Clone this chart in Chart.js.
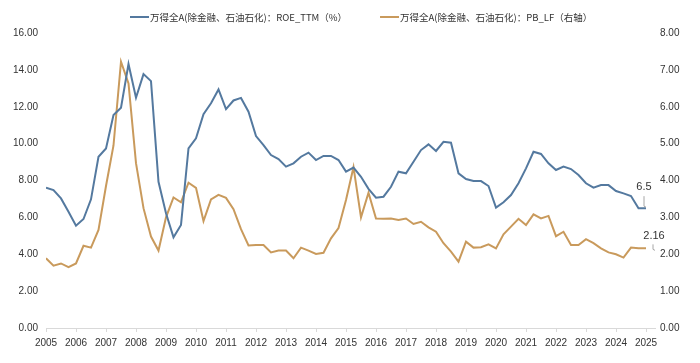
<!DOCTYPE html>
<html>
<head>
<meta charset="utf-8">
<script src="https://cdn.jsdelivr.net/npm/chart.js@4.4.1/dist/chart.umd.min.js"></script>
<style>
  html, body { margin: 0; padding: 0; background: #fff; }
  #wrap { width: 700px; height: 363px; }
</style>
</head>
<body>
<div id="wrap"><canvas id="roePbChart"></canvas></div>
<script>
// 季度数据，2005Q1 - 2025Q1
const startYear = 2005;
const yearTicks = [2005, 2006, 2007, 2008, 2009, 2010, 2011, 2012, 2013, 2014, 2015,
  2016, 2017, 2018, 2019, 2020, 2021, 2022, 2023, 2024, 2025];
const roeTTM = [
  7.61, 7.48, 7.03, 6.31, 5.55, 5.91, 6.98, 9.29, 9.74, 11.55,
  11.95, 14.32, 12.49, 13.77, 13.39, 7.93, 6.22, 4.92, 5.59, 9.74,
  10.29, 11.60, 12.19, 12.94, 11.87, 12.34, 12.48, 11.73, 10.41, 9.92,
  9.38, 9.16, 8.75, 8.93, 9.29, 9.51, 9.11, 9.33, 9.33, 9.11,
  8.48, 8.70, 8.20, 7.55, 7.07, 7.12, 7.66, 8.48, 8.39, 9.02,
  9.65, 9.96, 9.60, 10.10, 10.05, 8.39, 8.08, 7.97, 7.97, 7.70,
  6.53, 6.82, 7.21, 7.85, 8.66, 9.56, 9.44, 8.93, 8.57, 8.75,
  8.62, 8.30, 7.85, 7.61, 7.75, 7.75, 7.43, 7.30, 7.16, 6.50,
  6.50
];
const pbLF = [
  1.89, 1.69, 1.75, 1.65, 1.75, 2.23, 2.18, 2.66, 3.85, 4.95,
  7.22, 6.63, 4.47, 3.25, 2.48, 2.10, 3.00, 3.54, 3.41, 3.94,
  3.80, 2.90, 3.49, 3.61, 3.53, 3.22, 2.68, 2.24, 2.25, 2.25,
  2.05, 2.10, 2.10, 1.89, 2.18, 2.10, 2.01, 2.04, 2.43, 2.71,
  3.47, 4.36, 3.00, 3.67, 2.97, 2.96, 2.97, 2.93, 2.97, 2.82,
  2.88, 2.73, 2.61, 2.30, 2.07, 1.80, 2.34, 2.18, 2.19, 2.27,
  2.16, 2.54, 2.75, 2.96, 2.79, 3.08, 2.97, 3.04, 2.49, 2.61,
  2.25, 2.25, 2.41, 2.30, 2.16, 2.05, 2.00, 1.91, 2.18, 2.16,
  2.16
];
const roeLabel = '万得全A(除金融、石油石化)：ROE_TTM（%）';
const pbLabel = '万得全A(除金融、石油石化)：PB_LF（右轴）';
const lastRoeText = '6.5';
const lastPbText = '2.16';

const blue = '#54799f';
const orange = '#c99a5c';
const numFont = { family: '"Liberation Sans", Arial, sans-serif', size: 10 };

const toPoints = arr => arr.map((v, i) => ({ x: startYear + i / 4, y: v }));

// 图例（手绘，控制间距）
const topLegend = {
  id: 'topLegend',
  afterDraw(chart) {
    const c = chart.ctx;
    c.save();
    c.font = '9.5px "Noto Sans CJK SC", sans-serif';
    c.textBaseline = 'middle';
    c.textAlign = 'left';
    let x = 130;
    const y = 17;
    chart.data.datasets.forEach(ds => {
      c.strokeStyle = ds.borderColor;
      c.lineWidth = 2;
      c.beginPath();
      c.moveTo(x, y);
      c.lineTo(x + 19, y);
      c.stroke();
      c.fillStyle = '#333';
      c.fillText(ds.label, x + 20, y);
      x += 20 + c.measureText(ds.label).width + 33;
    });
    c.restore();
  }
};

// 末端数值标注
const endLabels = {
  id: 'endLabels',
  afterDatasetsDraw(chart) {
    const c = chart.ctx;
    const items = [
      { ds: 0, text: lastRoeText, dx: -2, dy: -21, lx: -2, ly0: -12, ly1: -2 },
      { ds: 1, text: lastPbText, dx: 8, dy: -12, lx: 7, ly0: -4, ly1: 1 }
    ];
    c.save();
    items.forEach(it => {
      const pts = chart.getDatasetMeta(it.ds).data;
      const p = pts[pts.length - 1];
      c.strokeStyle = '#a6a6a6';
      c.lineWidth = 1;
      c.beginPath();
      c.moveTo(p.x + it.lx, p.y + it.ly0);
      c.lineTo(p.x + it.lx, p.y + it.ly1);
      c.lineTo(p.x + it.lx + 2, p.y + it.ly1 + 1);
      c.stroke();
      c.fillStyle = '#333';
      c.font = '11px "Liberation Sans", Arial, sans-serif';
      c.textAlign = 'center';
      c.textBaseline = 'middle';
      c.fillText(it.text, p.x + it.dx, p.y + it.dy);
    });
    c.restore();
  }
};

new Chart(document.getElementById('roePbChart'), {
  type: 'line',
  data: {
    datasets: [
      {
        label: roeLabel,
        data: toPoints(roeTTM),
        borderColor: blue,
        backgroundColor: blue,
        borderWidth: 2,
        pointRadius: 0,
        tension: 0,
        yAxisID: 'y'
      },
      {
        label: pbLabel,
        data: toPoints(pbLF),
        borderColor: orange,
        backgroundColor: orange,
        borderWidth: 2,
        pointRadius: 0,
        tension: 0,
        yAxisID: 'y1'
      }
    ]
  },
  options: {
    responsive: true,
    maintainAspectRatio: false,
    animation: false,
    layout: { padding: { top: 33, right: 0, bottom: 0, left: 0 } },
    plugins: {
      tooltip: { enabled: false },
      legend: { display: false }
    },
    scales: {
      x: {
        type: 'linear',
        min: 2005,
        max: 2025.3,
        ticks: {
          color: '#333',
          font: numFont,
          maxRotation: 0,
          autoSkip: false,
          padding: 5,
          callback: v => String(v)
        },
        afterBuildTicks: s => { s.ticks = yearTicks.map(v => ({ value: v })); },
        grid: { drawOnChartArea: false, color: '#d9d9d9', tickLength: 4 },
        border: { color: '#d9d9d9' },
        afterFit: s => { s.height = 35; }
      },
      y: {
        position: 'left',
        min: 0,
        max: 16,
        ticks: { stepSize: 2, color: '#333', font: numFont, padding: 8, callback: v => v.toFixed(2) },
        grid: { display: false, drawTicks: false },
        border: { display: false },
        afterFit: s => { s.width = 46; }
      },
      y1: {
        position: 'right',
        min: 0,
        max: 8,
        ticks: { stepSize: 1, color: '#333', font: numFont, padding: 5, callback: v => v.toFixed(2) },
        grid: { display: false, drawTicks: false },
        border: { display: false },
        afterFit: s => { s.width = 45; }
      }
    }
  },
  plugins: [endLabels, topLegend]
});
</script>
</body>
</html>
